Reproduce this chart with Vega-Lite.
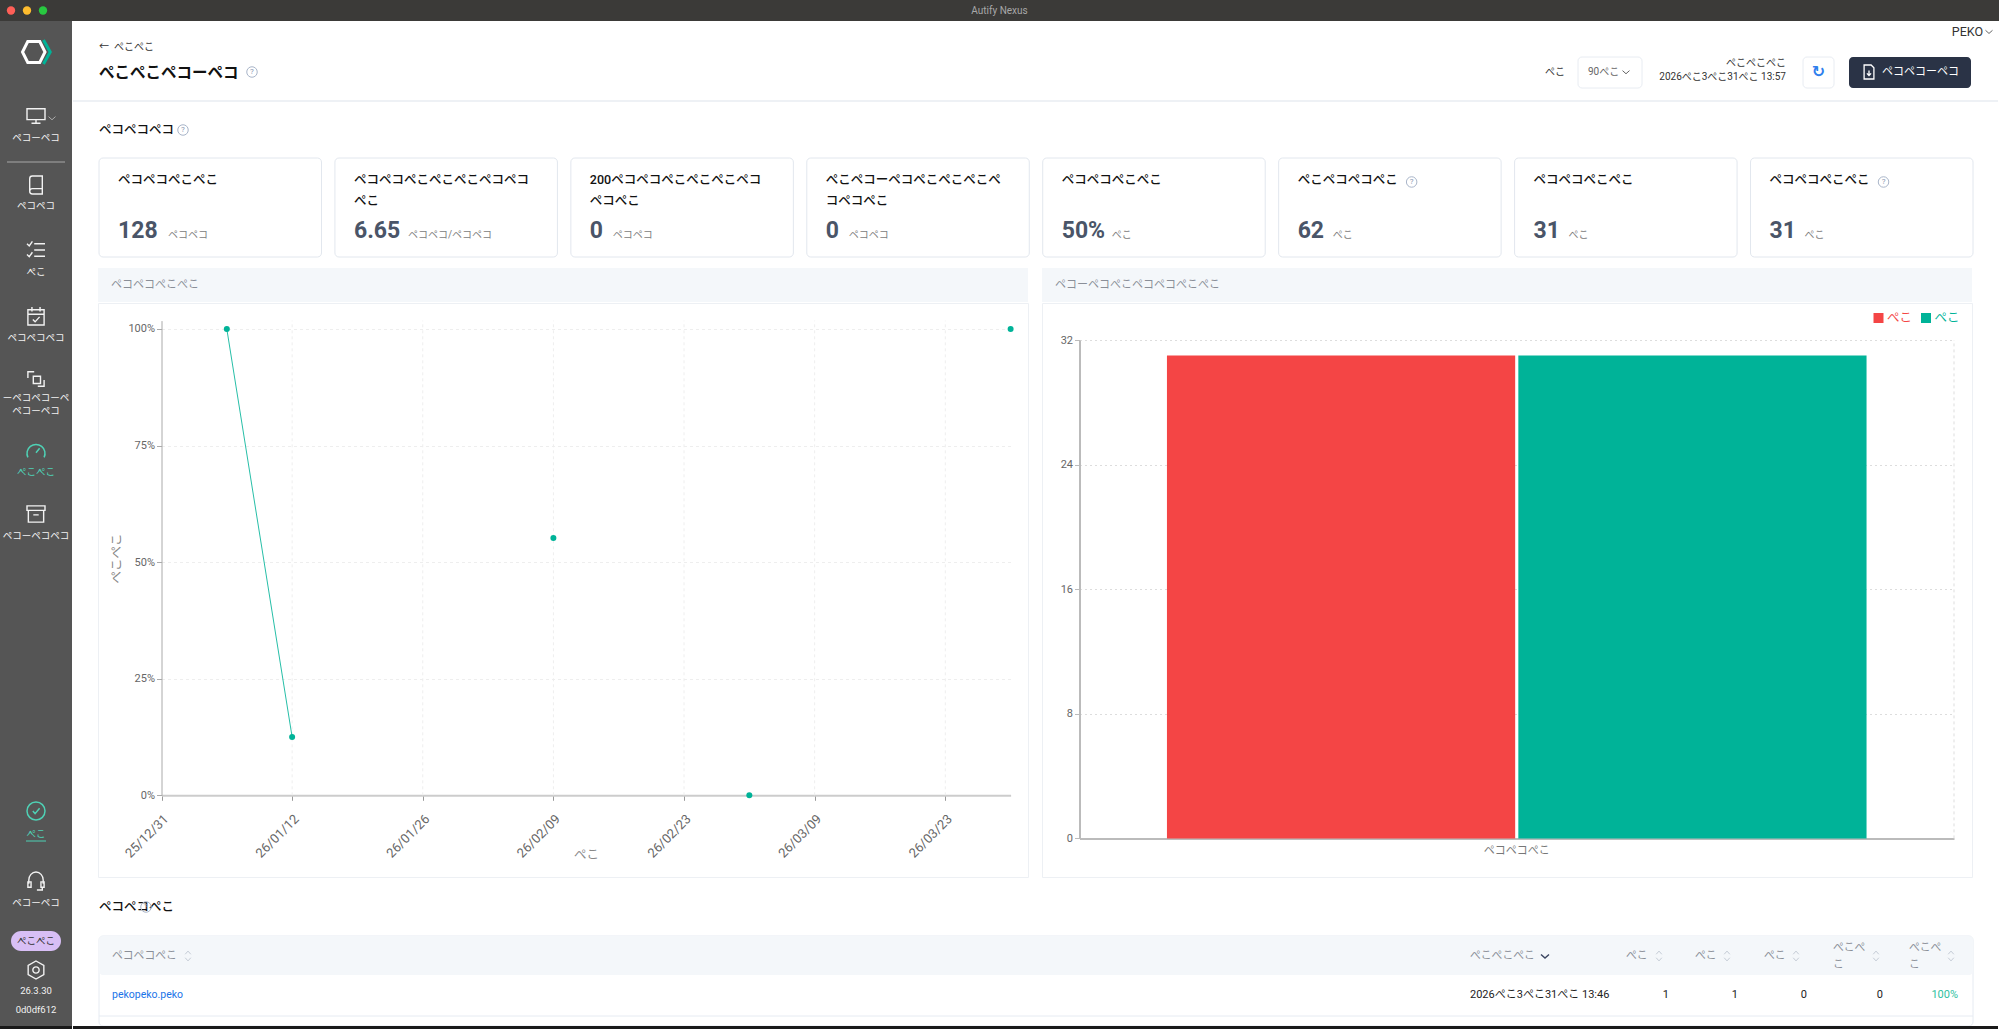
{
  "$schema": "https://vega.github.io/schema/vega-lite/v6.json",
  "description": "Autify Nexus test report dashboard",
  "background": "white",
  "padding": 0,
  "spacing": 0,
  "resolve": {"scale": {"color": "independent"}},
  "config": {
    "font": "Roboto, 'Noto Sans CJK JP'",
    "view": {"stroke": null},
    "axis": {"labelFont": "Roboto, 'Noto Sans CJK JP'", "titleFont": "Roboto, 'Noto Sans CJK JP'"}
  },
  "datasets": {
    "kpi": [
      {"card": "c1", "no": 1, "noEnd": 1.943, "label": "ペコペコぺこぺこ", "value": "128", "unit": "ペコペコ", "len": 3},
      {"card": "c2", "no": 2, "noEnd": 2.943, "label": "ペコペコぺこぺこぺこペコペコ\nぺこ", "value": "6.65", "unit": "ペコペコ/ペコペコ", "len": 4},
      {"card": "c3", "no": 3, "noEnd": 3.943, "label": "200ペコペコぺこぺこぺこペコ\nペコぺこ", "value": "0", "unit": "ペコペコ", "len": 1},
      {"card": "c4", "no": 4, "noEnd": 4.943, "label": "ぺこペコーペコぺこぺこぺこぺ\nコペコぺこ", "value": "0", "unit": "ペコペコ", "len": 1},
      {"card": "c5", "no": 5, "noEnd": 5.943, "label": "ペコペコぺこぺこ", "value": "50%", "unit": "ぺこ", "len": 3},
      {"card": "c6", "no": 6, "noEnd": 6.943, "label": "ぺこペコペコぺこ", "value": "62", "unit": "ぺこ", "len": 2},
      {"card": "c7", "no": 7, "noEnd": 7.943, "label": "ペコペコぺこぺこ", "value": "31", "unit": "ぺこ", "len": 2},
      {"card": "c8", "no": 8, "noEnd": 8.943, "label": "ペコペコぺこぺこ", "value": "31", "unit": "ぺこ", "len": 2}
    ],
    "rates": [
      {"date": "2026-01-05", "rate": 1, "run": 1},
      {"date": "2026-01-12", "rate": 0.125, "run": 1},
      {"date": "2026-02-09", "rate": 0.552, "run": 2},
      {"date": "2026-03-02", "rate": 0, "run": 3},
      {"date": "2026-03-30", "rate": 1, "run": 4}
    ],
    "rateTicks": [
      {"date": "2026-01-12", "rate": 0, "top": 1.018}, {"date": "2026-01-26", "rate": 0, "top": 1.018},
      {"date": "2026-02-09", "rate": 0, "top": 1.018}, {"date": "2026-02-23", "rate": 0, "top": 1.018},
      {"date": "2026-03-09", "rate": 0, "top": 1.018}, {"date": "2026-03-23", "rate": 0, "top": 1.018}
    ],
    "results": [
      {"group": "ペコペコぺこ", "status": "failed", "text": "ぺこ", "count": 31},
      {"group": "ペコペコぺこ", "status": "passed", "text": "ぺこ", "count": 31}
    ]
  },
  "vconcat": [
    {
      "width": 1999,
      "height": 21,
      "view": {"fill": "#3b3a38"},
      "layer": [
        {
          "data": {"values": [{"light": "close"}, {"light": "minimize"}, {"light": "zoom"}]},
          "mark": {"type": "point", "filled": true, "size": 70, "opacity": 1},
          "encoding": {
            "x": {"field": "light", "type": "nominal", "axis": null, "scale": {"type": "point", "padding": 0, "domain": ["close", "minimize", "zoom"], "range": [11, 43]}},
            "color": {"field": "light", "type": "nominal", "legend": null, "scale": {"domain": ["close", "minimize", "zoom"], "range": ["#ff5f57", "#febc2e", "#28c840"]}}
          }
        },
        {
          "data": {"values": [{"text": "Autify Nexus"}]},
          "mark": {"type": "text", "fontSize": 10, "color": "#a8a8a8"},
          "encoding": {"text": {"field": "text"}}
        }
      ]
    },
    {
      "spacing": 0,
      "hconcat": [
        {
          "width": 72,
          "height": 1008,
          "view": {"fill": "#555555"},
          "resolve": {"scale": {"shape": "independent"}},
          "encoding": {
            "y": {"field": "slot", "type": "quantitative", "axis": null, "scale": {
              "domain": [0, 1, 2, 3, 4, 5, 6, 7, 8, 9, 10, 11, 12, 13, 14, 15, 16, 17, 18, 19, 20, 21, 22, 23, 24, 25, 26],
              "range": [31, 95, 117, 141, 164, 185, 229, 251, 295, 317, 358, 377, 390, 430, 451, 493, 515, 790, 813, 860, 882, 920, 949, 970, 989, 1005, 1008]
            }}
          },
          "layer": [
            {
              "data": {"values": [{"slot": 25, "slotEnd": 26}]},
              "mark": {"type": "rect", "fill": "#1a1a1a"},
              "encoding": {"y2": {"field": "slotEnd"}}
            },
            {
              "data": {"values": [{"slot": 3}]},
              "mark": {"type": "point", "filled": false, "size": 3364, "stroke": "#8c8c8c", "strokeWidth": 1.5, "opacity": 1, "shape": "M-1,0H1"}
            },
            {
              "data": {"values": [{"slot": 0}]},
              "mark": {"type": "point", "filled": false, "size": 900, "stroke": "white", "strokeWidth": 3, "opacity": 1, "shape": "M-0.55,-0.7H0.25L0.6,0L0.25,0.7H-0.55L-0.9,0Z"}
            },
            {
              "data": {"values": [{"slot": 0}]},
              "mark": {"type": "point", "filled": false, "size": 900, "stroke": "#00b398", "strokeWidth": 3, "opacity": 1, "shape": "M0.5,-0.8L0.95,0L0.5,0.8"}
            },
            {
              "data": {"values": [
                {"slot": 1, "icon": "monitor"}, {"slot": 4, "icon": "book"}, {"slot": 6, "icon": "list"},
                {"slot": 8, "icon": "calendar"}, {"slot": 10, "icon": "link"}, {"slot": 15, "icon": "archive"},
                {"slot": 19, "icon": "headset"}, {"slot": 22, "icon": "gear"}
              ]},
              "mark": {"type": "point", "filled": false, "size": 324, "stroke": "#f2f2f2", "strokeWidth": 1.4, "opacity": 1},
              "encoding": {
                "shape": {"field": "icon", "type": "nominal", "legend": null, "scale": {
                  "domain": ["monitor", "book", "list", "calendar", "link", "archive", "headset", "gear"],
                  "range": [
                    "M-1,-0.8H1V0.4H-1ZM0,0.4V0.8M-0.5,0.8H0.5",
                    "M-0.7,0.7V-0.7Q-0.7,-1 -0.4,-1H0.7V1H-0.4Q-0.7,1 -0.7,0.7Q-0.7,0.4 -0.4,0.4H0.7",
                    "M-0.2,-0.7H1M-0.2,0H1M-0.2,0.7H1M-1,-0.7L-0.75,-0.45L-0.4,-0.95M-1,0.5L-0.75,0.75L-0.4,0.25",
                    "M-0.9,-0.7H0.9V1H-0.9ZM-0.9,-0.2H0.9M-0.45,-1V-0.5M0.45,-1V-0.5M-0.35,0.4L-0.1,0.65L0.4,0.1",
                    "M-0.3,-0.3H0.5V0.5H-0.3ZM-0.9,-0.1V-0.8H-0.2M0.9,0.1V0.8H0.2",
                    "M-1,-0.9H1V-0.4H-1ZM-0.85,-0.4V0.9H0.85V-0.4M-0.3,0.1H0.3",
                    "M-0.8,0.3V-0.1A0.8,0.9 0 0 1 0.8,-0.1V0.3M-0.9,0.1H-0.55V0.7H-0.9ZM0.55,0.1H0.9V0.7H0.55ZM0.7,0.7V1H0.1",
                    "M0,-1L0.87,-0.5V0.5L0,1L-0.87,0.5V-0.5ZM-0.35,0A0.35,0.35 0 1 1 0.35,0A0.35,0.35 0 1 1 -0.35,0Z"
                  ]
                }}
              }
            },
            {
              "data": {"values": [{"slot": 13}]},
              "mark": {"type": "point", "filled": false, "size": 324, "stroke": "#4fd1b5", "strokeWidth": 1.5, "opacity": 1, "shape": "M-0.9,0.7A1,1 0 1 1 0.9,0.7M0,0.2L0.4,-0.3"}
            },
            {
              "data": {"values": [{"slot": 17}]},
              "mark": {"type": "point", "filled": false, "size": 324, "stroke": "#4fd1b5", "strokeWidth": 1.5, "opacity": 1, "shape": "M-1,0A1,1 0 1 1 1,0A1,1 0 1 1 -1,0ZM-0.35,0L-0.1,0.3L0.4,-0.3"}
            },
            {
              "data": {"values": [{"slot": 1}]},
              "mark": {"type": "point", "filled": false, "size": 49, "stroke": "#aaaaaa", "strokeWidth": 1, "opacity": 1, "xOffset": 16, "yOffset": 2, "shape": "M-1,-0.4L0,0.5L1,-0.4"}
            },
            {
              "data": {"values": [{"slot": 18}]},
              "mark": {"type": "point", "filled": false, "size": 400, "stroke": "#4fd1b5", "strokeWidth": 1, "opacity": 1, "yOffset": 7, "shape": "M-1,0H1"}
            },
            {
              "data": {"values": [{"slot": 21}]},
              "mark": {"type": "point", "filled": true, "size": 2500, "fill": "#d8bff5", "stroke": null, "opacity": 1, "shape": "M-0.6,-0.4H0.6A0.4,0.4 0 0 1 0.6,0.4H-0.6A0.4,0.4 0 0 1 -0.6,-0.4Z"}
            },
            {
              "data": {"values": [
                {"slot": 2, "text": "ペコーペコ"}, {"slot": 5, "text": "ペコペコ"}, {"slot": 7, "text": "ぺこ"},
                {"slot": 9, "text": "ペコペコペコ"}, {"slot": 11, "text": "ーペコペコーペ"}, {"slot": 12, "text": "ペコーペコ"},
                {"slot": 16, "text": "ペコーペコペコ"}, {"slot": 20, "text": "ペコーペコ"}
              ]},
              "mark": {"type": "text", "fontSize": 9.5, "color": "#f2f2f2"},
              "encoding": {"text": {"field": "text"}}
            },
            {
              "data": {"values": [{"slot": 14, "text": "ぺこぺこ"}, {"slot": 18, "text": "ぺこ"}]},
              "mark": {"type": "text", "fontSize": 9.5, "color": "#4fd1b5"},
              "encoding": {"text": {"field": "text"}}
            },
            {
              "data": {"values": [{"slot": 21, "text": "ぺこぺこ"}]},
              "mark": {"type": "text", "fontSize": 9.5, "color": "#333333"},
              "encoding": {"text": {"field": "text"}}
            },
            {
              "data": {"values": [{"slot": 23, "text": "26.3.30"}, {"slot": 24, "text": "0d0df612"}]},
              "mark": {"type": "text", "fontSize": 9.5, "color": "#f2f2f2"},
              "encoding": {"text": {"field": "text"}}
            }
          ]
        },
        {
          "spacing": 0,
          "vconcat": [
            {
              "width": 1925,
              "height": 81,
              "encoding": {
                "x": {"field": "slot", "type": "quantitative", "axis": null, "scale": {
                  "domain": [0, 1, 2, 3, 4, 5, 6, 7, 8, 9, 10, 11, 12, 13, 14, 15, 16, 17, 18],
                  "range": [0, 26, 179, 1492, 1505, 1515, 1553, 1569, 1713, 1730, 1745.5, 1761, 1776, 1796, 1809, 1898, 1910, 1916, 1925]
                }},
                "y": {"field": "line", "type": "quantitative", "axis": null, "scale": {
                  "domain": [0, 1, 2, 3, 4, 5, 6, 7],
                  "range": [10.7, 26, 36, 42, 51, 56, 67, 80]
                }}
              },
              "layer": [
                {
                  "data": {"values": [{"slot": 0, "slotEnd": 18, "line": 7}]},
                  "mark": {"type": "rule", "color": "#eef1f5", "strokeWidth": 2},
                  "encoding": {"x2": {"field": "slotEnd"}}
                },
                {
                  "data": {"values": [{"slot": 4, "slotEnd": 7, "line": 2, "lineEnd": 6}, {"slot": 9, "slotEnd": 11, "line": 2, "lineEnd": 6}]},
                  "mark": {"type": "rect", "fill": "white", "stroke": "#e8ecf2", "cornerRadius": 4},
                  "encoding": {"x2": {"field": "slotEnd"}, "y2": {"field": "lineEnd"}}
                },
                {
                  "data": {"values": [{"slot": 12, "slotEnd": 15, "line": 2, "lineEnd": 6}]},
                  "mark": {"type": "rect", "fill": "#2a3346", "cornerRadius": 4},
                  "encoding": {"x2": {"field": "slotEnd"}, "y2": {"field": "lineEnd"}}
                },
                {
                  "data": {"values": [{"slot": 1, "line": 4, "text": "ぺこぺこペコーペコ"}]},
                  "mark": {"type": "text", "align": "left", "dy": 1, "fontSize": 15.5, "fontWeight": "bold", "color": "#111111"},
                  "encoding": {"text": {"field": "text"}}
                },
                {
                  "data": {"values": [{"slot": 1, "line": 1, "text": "←\u00a0\u00a0ぺこぺこ"}]},
                  "mark": {"type": "text", "align": "left", "fontSize": 10, "color": "#333333"},
                  "encoding": {"text": {"field": "text"}}
                },
                {
                  "data": {"values": [
                    {"slot": 3, "line": 4, "text": "ぺこ"},
                    {"slot": 8, "line": 3, "text": "ぺこぺこぺこ"},
                    {"slot": 8, "line": 5, "text": "2026ぺこ3ぺこ31ぺこ 13:57"}
                  ]},
                  "mark": {"type": "text", "align": "right", "fontSize": 10, "color": "#333333"},
                  "encoding": {"text": {"field": "text"}}
                },
                {
                  "data": {"values": [{"slot": 16, "line": 0, "text": "PEKO"}]},
                  "mark": {"type": "text", "align": "right", "fontSize": 12.5, "color": "#333333"},
                  "encoding": {"text": {"field": "text"}}
                },
                {
                  "data": {"values": [{"slot": 5, "line": 4, "text": "90ぺこ"}]},
                  "mark": {"type": "text", "align": "left", "fontSize": 10, "color": "#666666"},
                  "encoding": {"text": {"field": "text"}}
                },
                {
                  "data": {"values": [{"slot": 14, "line": 4, "text": "ペコペコーペコ"}]},
                  "mark": {"type": "text", "align": "left", "fontSize": 11, "color": "white"},
                  "encoding": {"text": {"field": "text"}}
                },
                {
                  "data": {"values": [{"slot": 10, "line": 4, "text": "↻"}]},
                  "mark": {"type": "text", "font": "DejaVu Sans", "fontSize": 16, "fontWeight": "bold", "color": "#2f80ed"},
                  "encoding": {"text": {"field": "text"}}
                },
                {
                  "data": {"values": [{"slot": 13, "line": 4}]},
                  "mark": {"type": "point", "filled": false, "size": 196, "stroke": "white", "strokeWidth": 1.3, "opacity": 1, "shape": "M-0.7,-1H0.3L0.7,-0.6V1H-0.7ZM0,-0.2V0.5M-0.3,0.2L0,0.5L0.3,0.2"}
                },
                {
                  "data": {"values": [{"slot": 6, "line": 4}, {"slot": 17, "line": 0}]},
                  "mark": {"type": "point", "filled": false, "size": 49, "stroke": "#666666", "strokeWidth": 1, "opacity": 1, "shape": "M-1,-0.4L0,0.5L1,-0.4"}
                },
                {
                  "data": {"values": [{"slot": 2, "line": 4}]},
                  "mark": {"type": "point", "filled": false, "size": 110, "stroke": "#a9b5c9", "strokeWidth": 1, "opacity": 1}
                },
                {
                  "data": {"values": [{"slot": 2, "line": 4, "text": "?"}]},
                  "mark": {"type": "text", "fontSize": 8, "color": "#8796b0"},
                  "encoding": {"text": {"field": "text"}}
                }
              ]
            },
            {
              "width": 1925,
              "height": 165.5,
              "resolve": {"scale": {"x": "independent"}},
              "layer": [
                {
                  "data": {"name": "kpi"},
                  "mark": {"type": "rect", "fill": "white", "stroke": "#e2e7ee", "cornerRadius": 4},
                  "encoding": {
                    "x": {"field": "no", "type": "quantitative", "axis": null, "scale": {"domain": [1, 8.943], "range": [26, 1900]}},
                    "x2": {"field": "noEnd"},
                    "y": {"datum": 1, "type": "quantitative", "axis": null, "scale": {"domain": [0, 1, 2, 3, 4, 5], "range": [28, 56, 72, 129, 133, 155]}},
                    "y2": {"datum": 5}
                  }
                },
                {
                  "layer": [
                    {
                      "data": {"values": [{"card": "c1", "text": "ペコペコペコ"}]},
                      "mark": {"type": "text", "align": "left", "fontSize": 12.5, "fontWeight": 500, "color": "#111111"},
                      "encoding": {
                        "x": {"field": "card", "type": "nominal", "bandPosition": 0, "axis": null, "scale": {"type": "band", "domain": ["c1", "c2", "c3", "c4", "c5", "c6", "c7", "c8"], "range": [26, 1900], "paddingInner": 0.057, "paddingOuter": 0}},
                        "y": {"datum": 0, "type": "quantitative", "axis": null},
                        "text": {"field": "text"}
                      }
                    },
                    {
                      "data": {"values": [{"card": "c1"}]},
                      "mark": {"type": "point", "filled": false, "size": 110, "stroke": "#a9b5c9", "strokeWidth": 1, "opacity": 1, "xOffset": 84},
                      "encoding": {
                        "x": {"field": "card", "type": "nominal", "bandPosition": 0, "axis": null},
                        "y": {"datum": 0, "type": "quantitative", "axis": null}
                      }
                    },
                    {
                      "data": {"values": [{"card": "c1", "text": "?"}]},
                      "mark": {"type": "text", "fontSize": 8, "color": "#8796b0", "xOffset": 84},
                      "encoding": {
                        "x": {"field": "card", "type": "nominal", "bandPosition": 0, "axis": null},
                        "y": {"datum": 0, "type": "quantitative", "axis": null},
                        "text": {"field": "text"}
                      }
                    },
                    {
                      "data": {"name": "kpi"},
                      "mark": {"type": "text", "align": "left", "baseline": "top", "dx": 19, "fontSize": 12.5, "fontWeight": 500, "lineBreak": "\n", "lineHeight": 21, "color": "#111111"},
                      "encoding": {
                        "x": {"field": "card", "type": "nominal", "bandPosition": 0, "axis": null},
                        "y": {"datum": 2, "type": "quantitative", "axis": null},
                        "text": {"field": "label"}
                      }
                    },
                    {
                      "data": {"name": "kpi"},
                      "mark": {"type": "text", "align": "left", "dx": 19, "fontSize": 23, "fontWeight": 700, "color": "#4a5568"},
                      "encoding": {
                        "x": {"field": "card", "type": "nominal", "bandPosition": 0, "axis": null},
                        "y": {"datum": 3, "type": "quantitative", "axis": null},
                        "text": {"field": "value"}
                      }
                    },
                    {
                      "data": {"name": "kpi"},
                      "mark": {"type": "text", "align": "left", "fontSize": 10, "color": "#808080"},
                      "encoding": {
                        "x": {"field": "card", "type": "nominal", "bandPosition": 0, "axis": null},
                        "xOffset": {"field": "len", "type": "quantitative", "scale": {"domain": [1, 2, 3, 4], "range": [42, 54, 69, 73]}},
                        "y": {"datum": 4, "type": "quantitative", "axis": null},
                        "text": {"field": "unit"}
                      }
                    },
                    {
                      "data": {"values": [{"card": "c6"}, {"card": "c8"}]},
                      "mark": {"type": "point", "filled": false, "size": 110, "stroke": "#a9b5c9", "strokeWidth": 1, "opacity": 1, "xOffset": 133},
                      "encoding": {
                        "x": {"field": "card", "type": "nominal", "bandPosition": 0, "axis": null},
                        "y": {"datum": 2.14, "type": "quantitative", "axis": null}
                      }
                    },
                    {
                      "data": {"values": [{"card": "c6", "text": "?"}, {"card": "c8", "text": "?"}]},
                      "mark": {"type": "text", "fontSize": 8, "color": "#8796b0", "xOffset": 133},
                      "encoding": {
                        "x": {"field": "card", "type": "nominal", "bandPosition": 0, "axis": null},
                        "y": {"datum": 2.14, "type": "quantitative", "axis": null},
                        "text": {"field": "text"}
                      }
                    }
                  ]
                }
              ]
            },
            {
              "spacing": 12,
              "hconcat": [
                {
                  "width": 11.5,
                  "height": 608,
                  "data": {"values": [{"gutter": 1}]},
                  "mark": {"type": "rect", "opacity": 0}
                },
                {
                  "spacing": 0,
                  "vconcat": [
                    {
                      "width": 930,
                      "height": 34,
                      "view": {"fill": "#f4f7fa"},
                      "data": {"values": [{"text": "ペコペコぺこぺこ"}]},
                      "mark": {"type": "text", "align": "left", "fontSize": 11, "color": "#8a8f98"},
                      "encoding": {
                        "x": {"datum": 0, "type": "quantitative", "axis": null, "scale": {"domain": [0, 1], "range": [13, 14]}},
                        "text": {"field": "text"}
                      }
                    },
                    {
                      "width": 930,
                      "height": 574,
                      "view": {"stroke": "#edf0f4"},
                      "data": {"name": "rates"},
                      "encoding": {
                        "x": {
                          "field": "date",
                          "type": "temporal",
                          "title": "ぺこ",
                          "scale": {
                            "type": "utc",
                            "domain": [{"year": 2025, "month": 12, "date": 29, "utc": true}, {"year": 2026, "month": 3, "date": 30, "utc": true}],
                            "range": [63.5, 912.6]
                          },
                          "axis": {
                            "offset": -81.7,
                            "values": [
                              {"year": 2025, "month": 12, "date": 29, "utc": true},
                              {"year": 2026, "month": 1, "date": 12, "utc": true},
                              {"year": 2026, "month": 1, "date": 26, "utc": true},
                              {"year": 2026, "month": 2, "date": 9, "utc": true},
                              {"year": 2026, "month": 2, "date": 23, "utc": true},
                              {"year": 2026, "month": 3, "date": 9, "utc": true},
                              {"year": 2026, "month": 3, "date": 23, "utc": true}
                            ],
                            "labelExpr": "datum.index == 0 ? '25/12/31' : utcFormat(datum.value, '%y/%m/%d')",
                            "labelAngle": -45,
                            "labelFontSize": 13,
                            "labelColor": "#666666",
                            "labelPadding": 12,
                            "domainColor": "#cccccc",
                            "domainWidth": 2,
                            "tickColor": "#999999",
                            "grid": false,
                            "titleColor": "#888888",
                            "titleFontSize": 12.5,
                            "titleFontWeight": "normal",
                            "titlePadding": -11.5
                          }
                        },
                        "y": {
                          "field": "rate",
                          "type": "quantitative",
                          "title": "ぺこぺこ",
                          "scale": {"domain": [0, 1.018], "range": [492.3, 17.6]},
                          "axis": {
                            "offset": -63.5,
                            "values": [0, 0.25, 0.5, 0.75, 1],
                            "format": ".0%",
                            "labelFontSize": 11,
                            "labelColor": "#666666",
                            "domainColor": "#aaaaaa",
                            "tickColor": "#aaaaaa",
                            "grid": true,
                            "gridColor": "#eeeeee",
                            "gridDash": [3, 3],
                            "titleColor": "#888888",
                            "titleFontSize": 12.5,
                            "titleFontWeight": "normal",
                            "titlePadding": 4
                          }
                        }
                      },
                      "layer": [
                        {
                          "data": {"name": "rateTicks"},
                          "mark": {"type": "rule", "color": "#eeeeee", "strokeDash": [3, 3]},
                          "encoding": {"y2": {"field": "top"}}
                        },
                        {
                          "mark": {"type": "line", "color": "#00b398", "strokeWidth": 1, "opacity": 0.85},
                          "encoding": {"detail": {"field": "run", "type": "nominal"}}
                        },
                        {
                          "mark": {"type": "point", "filled": true, "size": 36, "color": "#00b398", "opacity": 1}
                        }
                      ]
                    }
                  ]
                },
                {
                  "spacing": 0,
                  "vconcat": [
                    {
                      "width": 930,
                      "height": 34,
                      "view": {"fill": "#f4f7fa"},
                      "data": {"values": [{"text": "ペコーペコぺこペコペコぺこぺこ"}]},
                      "mark": {"type": "text", "align": "left", "fontSize": 11, "color": "#8a8f98"},
                      "encoding": {
                        "x": {"datum": 0, "type": "quantitative", "axis": null, "scale": {"domain": [0, 1], "range": [13, 14]}},
                        "text": {"field": "text"}
                      }
                    },
                    {
                      "width": 930,
                      "height": 574,
                      "view": {"stroke": "#edf0f4"},
                      "resolve": {"scale": {"x": "independent", "y": "independent"}},
                      "layer": [
                        {
                          "data": {"name": "results"},
                          "mark": {"type": "bar", "stroke": "white", "strokeWidth": 0},
                          "encoding": {
                            "x": {
                              "field": "group",
                              "type": "nominal",
                              "title": null,
                              "scale": {"type": "band", "range": [37.5, 912], "paddingInner": 0, "paddingOuter": 0.125},
                              "axis": {
                                "offset": -38.6,
                                "labelAngle": 0,
                                "labelFontSize": 11,
                                "labelColor": "#777777",
                                "labelPadding": 6,
                                "domainColor": "#bbbbbb",
                                "domainWidth": 2,
                                "ticks": false
                              }
                            },
                            "xOffset": {"field": "status", "type": "nominal", "scale": {"domain": ["failed", "passed"], "paddingInner": 0.009, "paddingOuter": 0}},
                            "y": {
                              "field": "count",
                              "type": "quantitative",
                              "title": null,
                              "scale": {"domain": [0, 32], "range": [535.4, 37]},
                              "axis": {
                                "offset": -37.5,
                                "values": [0, 8, 16, 24, 32],
                                "labelFontSize": 11,
                                "labelColor": "#666666",
                                "domainColor": "#bbbbbb",
                                "domainWidth": 2,
                                "tickColor": "#bbbbbb",
                                "grid": true,
                                "gridColor": "#dddddd",
                                "gridDash": [2, 3]
                              }
                            },
                            "color": {"field": "status", "type": "nominal", "legend": null, "scale": {"domain": ["failed", "passed"], "range": ["#f44545", "#00b398"]}}
                          }
                        },
                        {
                          "data": {"values": [{"edge": 1}]},
                          "mark": {"type": "rule", "color": "#dddddd", "strokeDash": [3, 3]},
                          "encoding": {
                            "x": {"datum": 0, "type": "quantitative", "axis": null, "scale": {"domain": [0, 1], "range": [912, 913]}},
                            "y": {"datum": 0, "type": "quantitative", "axis": null, "scale": {"domain": [0, 32], "range": [535.4, 37]}},
                            "y2": {"datum": 32}
                          }
                        },
                        {
                          "data": {"name": "results"},
                          "mark": {"type": "square", "size": 100, "opacity": 1},
                          "encoding": {
                            "x": {"field": "status", "type": "nominal", "axis": null, "scale": {"type": "point", "padding": 0, "domain": ["failed", "passed"], "range": [836.5, 884]}},
                            "y": {"datum": 0, "type": "quantitative", "axis": null, "scale": {"domain": [0, 1], "range": [15, 16]}},
                            "color": {"field": "status", "type": "nominal", "legend": null}
                          }
                        },
                        {
                          "data": {"name": "results"},
                          "mark": {"type": "text", "align": "left", "fontSize": 12.5},
                          "encoding": {
                            "x": {"field": "status", "type": "nominal", "axis": null, "scale": {"type": "point", "padding": 0, "domain": ["failed", "passed"], "range": [845, 892.5]}},
                            "y": {"datum": 0, "type": "quantitative", "axis": null, "scale": {"domain": [0, 1], "range": [15, 16]}},
                            "color": {"field": "status", "type": "nominal", "legend": null},
                            "text": {"field": "text"}
                          }
                        }
                      ]
                    }
                  ]
                }
              ]
            },
            {
              "width": 1925,
              "height": 151,
              "encoding": {
                "x": {"field": "slot", "type": "quantitative", "axis": null, "scale": {
                  "domain": [0, 1, 2, 3, 4, 5, 6, 7, 8, 9, 10, 11, 12, 13, 14, 15, 16, 17, 18, 19, 20, 21, 22, 24],
                  "range": [0, 26, 39, 73, 115, 1397, 1472, 1553, 1586, 1596, 1622, 1654, 1665, 1691, 1723, 1734, 1760, 1803, 1810, 1836, 1878, 1885, 1900, 1925]
                }},
                "y": {"field": "line", "type": "quantitative", "axis": null, "scale": {
                  "domain": [0, 1, 2, 3, 4, 5, 6, 7, 8, 9],
                  "range": [29, 58, 70, 78, 87, 97, 117, 138, 148, 151]
                }}
              },
              "layer": [
                {
                  "data": {"values": [{"slot": 1, "slotEnd": 22, "line": 1, "lineEnd": 8}]},
                  "mark": {"type": "rect", "fill": "white", "stroke": "#e6ebf2", "cornerRadius": 4},
                  "encoding": {"x2": {"field": "slotEnd"}, "y2": {"field": "lineEnd"}}
                },
                {
                  "data": {"values": [{"slot": 1, "slotEnd": 22, "line": 1, "lineEnd": 5}]},
                  "mark": {"type": "rect", "fill": "#f4f7fa", "cornerRadius": 4},
                  "encoding": {"x2": {"field": "slotEnd"}, "y2": {"field": "lineEnd"}}
                },
                {
                  "data": {"values": [{"slot": 1, "slotEnd": 22, "line": 7}]},
                  "mark": {"type": "rule", "color": "#e6ebf2"},
                  "encoding": {"x2": {"field": "slotEnd"}}
                },
                {
                  "data": {"values": [{"slot": 0, "slotEnd": 24, "line": 8, "lineEnd": 9}]},
                  "mark": {"type": "rect", "fill": "#1a1a1a"},
                  "encoding": {"x2": {"field": "slotEnd"}, "y2": {"field": "lineEnd"}}
                },
                {
                  "data": {"values": [{"slot": 1, "line": 0, "text": "ペコペコぺこ"}]},
                  "mark": {"type": "text", "align": "left", "fontSize": 12.5, "fontWeight": 500, "color": "#111111"},
                  "encoding": {"text": {"field": "text"}}
                },
                {
                  "data": {"values": [{"slot": 3, "line": 0}]},
                  "mark": {"type": "point", "filled": false, "size": 110, "stroke": "#a9b5c9", "strokeWidth": 1, "opacity": 1}
                },
                {
                  "data": {"values": [{"slot": 3, "line": 0, "text": "?"}]},
                  "mark": {"type": "text", "fontSize": 8, "color": "#8796b0"},
                  "encoding": {"text": {"field": "text"}}
                },
                {
                  "data": {"values": [
                    {"slot": 2, "line": 3, "text": "ペコペコぺこ"},
                    {"slot": 5, "line": 3, "text": "ぺこぺこぺこ"},
                    {"slot": 7, "line": 3, "text": "ぺこ"},
                    {"slot": 10, "line": 3, "text": "ぺこ"},
                    {"slot": 13, "line": 3, "text": "ぺこ"},
                    {"slot": 16, "line": 2, "text": "ぺこぺ"},
                    {"slot": 16, "line": 4, "text": "こ"},
                    {"slot": 19, "line": 2, "text": "ぺこぺ"},
                    {"slot": 19, "line": 4, "text": "こ"}
                  ]},
                  "mark": {"type": "text", "align": "left", "fontSize": 10.8, "color": "#8a8f98"},
                  "encoding": {"text": {"field": "text"}}
                },
                {
                  "data": {"values": [
                    {"slot": 4, "line": 3}, {"slot": 8, "line": 3}, {"slot": 11, "line": 3},
                    {"slot": 14, "line": 3}, {"slot": 17, "line": 3}, {"slot": 20, "line": 3}
                  ]},
                  "mark": {"type": "point", "filled": false, "size": 196, "stroke": "#c5ccd6", "strokeWidth": 1, "opacity": 1, "shape": "M-0.4,-0.25L0,-0.7L0.4,-0.25M-0.4,0.25L0,0.7L0.4,0.25"}
                },
                {
                  "data": {"values": [{"slot": 6, "line": 3}]},
                  "mark": {"type": "point", "filled": false, "size": 64, "stroke": "#3a4560", "strokeWidth": 1.4, "opacity": 1, "shape": "M-1,-0.4L0,0.5L1,-0.4"}
                },
                {
                  "data": {"values": [{"slot": 2, "line": 6, "text": "pekopeko.peko"}]},
                  "mark": {"type": "text", "align": "left", "fontSize": 10.5, "color": "#1a73e8"},
                  "encoding": {"text": {"field": "text"}}
                },
                {
                  "data": {"values": [{"slot": 5, "line": 6, "text": "2026ぺこ3ぺこ31ぺこ 13:46"}]},
                  "mark": {"type": "text", "align": "left", "fontSize": 11, "color": "#222222"},
                  "encoding": {"text": {"field": "text"}}
                },
                {
                  "data": {"values": [
                    {"slot": 9, "line": 6, "text": "1"}, {"slot": 12, "line": 6, "text": "1"},
                    {"slot": 15, "line": 6, "text": "0"}, {"slot": 18, "line": 6, "text": "0"}
                  ]},
                  "mark": {"type": "text", "align": "right", "fontSize": 11, "color": "#222222"},
                  "encoding": {"text": {"field": "text"}}
                },
                {
                  "data": {"values": [{"slot": 21, "line": 6, "text": "100%"}]},
                  "mark": {"type": "text", "align": "right", "fontSize": 11, "color": "#2fbf9f"},
                  "encoding": {"text": {"field": "text"}}
                }
              ]
            }
          ]
        },
        {
          "width": 2,
          "height": 1008,
          "data": {"values": [{"edge": 1}]},
          "mark": {"type": "rect", "fill": "#111111"}
        }
      ]
    }
  ]
}
